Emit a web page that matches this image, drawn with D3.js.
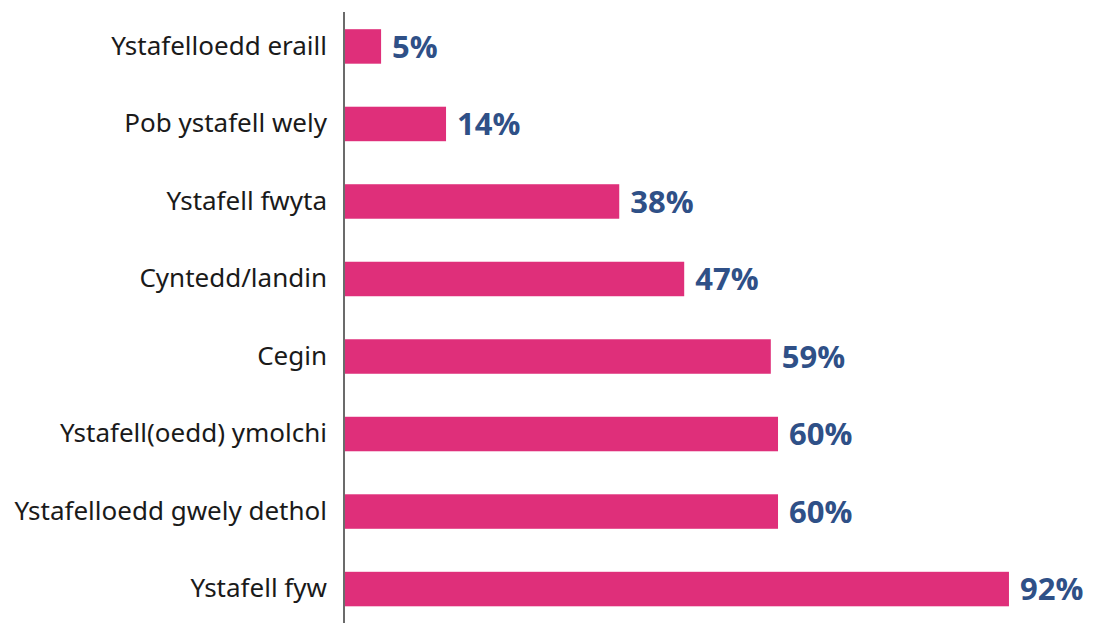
<!DOCTYPE html>
<html>
<head>
<meta charset="utf-8">
<script src="https://cdn.jsdelivr.net/npm/d3@7"></script>
<style>
  html, body { margin: 0; padding: 0; background: #fff; }
  svg { display: block; }
</style>
</head>
<body>
<svg id="chart" width="1093" height="623"></svg>
<script>
// Rooms, top to bottom, and the share of homes for each
const categories = [
  "Ystafelloedd eraill",
  "Pob ystafell wely",
  "Ystafell fwyta",
  "Cyntedd/landin",
  "Cegin",
  "Ystafell(oedd) ymolchi",
  "Ystafelloedd gwely dethol",
  "Ystafell fyw"
];
const values = [5, 14, 38, 47, 59, 60, 60, 92];

const svg = d3.select("#chart");
const width = 1093, height = 623;
const margin = { left: 345 };

const x = d3.scaleLinear().domain([0, 100]).range([margin.left, margin.left + 721.7]);
const y = d3.scaleBand()
  .domain(categories)
  .range([7.5, 628])
  .paddingInner(0.555)
  .paddingOuter(0.28);

// Bars
svg.append("g").selectAll("rect")
  .data(values)
  .join("rect")
  .attr("x", x(0))
  .attr("y", (d, i) => y(categories[i]))
  .attr("width", d => x(d) - x(0))
  .attr("height", y.bandwidth())
  .attr("fill", "#df2f7a");

// Value labels
svg.append("g").selectAll("text")
  .data(values)
  .join("text")
  .attr("x", d => x(d) + 11)
  .attr("y", (d, i) => y(categories[i]) + y.bandwidth() / 2)
  .attr("dy", "0.36em")
  .attr("font-family", "'Open Sans', sans-serif")
  .attr("font-weight", 700)
  .attr("font-size", 31)
  .attr("fill", "#2f5087")
  .text(d => d + "%");

// Category axis
const axis = svg.append("g")
  .attr("transform", `translate(${x(0) - 1},0)`)
  .call(d3.axisLeft(y).tickSize(0).tickPadding(17));
axis.select(".domain").remove();
axis.selectAll("text")
  .attr("font-family", "'Noto Sans', sans-serif")
  .attr("font-size", 26)
  .attr("fill", "#1a1a1a");

svg.append("line")
  .attr("x1", x(0) - 1).attr("x2", x(0) - 1)
  .attr("y1", 12).attr("y2", height)
  .attr("stroke", "#6b6b6b")
  .attr("stroke-width", 2);
</script>
</body>
</html>
